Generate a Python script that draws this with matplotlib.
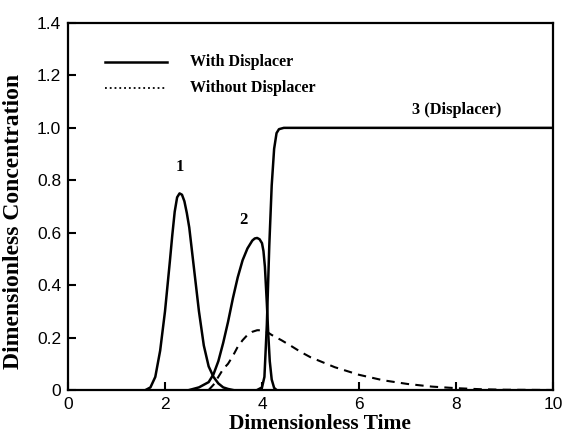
import matplotlib.pyplot as plt
from matplotlib.ticker import FixedLocator

# values
t_peak1 = [1.6, 1.7, 1.8, 1.9, 2.0, 2.1, 2.15, 2.2, 2.25, 2.3, 2.35, 2.4, 2.45, 2.5, 2.6, 2.7, 2.8, 2.9,
           3.0, 3.1, 3.2, 3.3, 3.4]
c_peak1 = [0.0, 0.01, 0.05, 0.15, 0.30, 0.49, 0.59, 0.68, 0.735, 0.75, 0.745, 0.72, 0.675, 0.62, 0.46,
           0.30, 0.17, 0.09, 0.05, 0.025, 0.01, 0.004, 0.0]

t_peak2 = [2.5, 2.7, 2.9, 3.0, 3.1, 3.2, 3.3, 3.4, 3.5, 3.6, 3.7, 3.75, 3.8, 3.85, 3.9, 3.95, 4.0, 4.03,
           4.06, 4.1, 4.13, 4.16, 4.2, 4.25, 4.3]
c_peak2 = [0.0, 0.01, 0.03, 0.06, 0.11, 0.18, 0.26, 0.35, 0.43, 0.495, 0.54, 0.555, 0.57, 0.578, 0.58,
           0.575, 0.56, 0.53, 0.47, 0.33, 0.21, 0.11, 0.04, 0.008, 0.0]

t_disp = [3.9, 4.0, 4.05, 4.1, 4.15, 4.2, 4.25, 4.3, 4.35, 4.45, 10.0]
c_disp = [0.0, 0.01, 0.05, 0.25, 0.55, 0.78, 0.92, 0.98, 0.995, 1.0, 1.0]

t_nodisp = [2.9, 3.0, 3.1, 3.2, 3.3, 3.4, 3.5, 3.6, 3.7, 3.8, 3.9, 4.0, 4.1, 4.2, 4.4, 4.6, 4.8, 5.0,
            5.5, 6.0, 6.5, 7.0, 7.5, 8.0, 8.5, 9.0, 10.0]
c_nodisp = [0.0, 0.02, 0.05, 0.08, 0.10, 0.13, 0.165, 0.19, 0.21, 0.222, 0.228, 0.228, 0.222, 0.21, 0.19,
            0.168, 0.145, 0.125, 0.087, 0.058, 0.037, 0.023, 0.013, 0.007, 0.003, 0.001, 0.0]

x_ticks = [0, 2, 4, 6, 8, 10]
y_ticks = [0, 0.2, 0.4, 0.6, 0.8, 1.0, 1.2, 1.4]
y_labels = ['0', '0.2', '0.4', '0.6', '0.8', '1.0', '1.2', '1.4']

serif = ['Liberation Serif', 'DejaVu Serif']

fig = plt.figure(figsize=(5.62, 4.37), dpi=100)
ax = fig.add_axes([68 / 562, 1 - 390 / 437, 485 / 562, 367 / 437])

lw = 1.8
ax.plot(t_peak1, c_peak1, color='black', lw=lw)
ax.plot(t_peak2, c_peak2, color='black', lw=lw)
ax.plot(t_disp, c_disp, color='black', lw=lw)
ax.plot(t_nodisp, c_nodisp, color='black', lw=1.5, ls=(0, (4, 3)))

ax.set_xlim(0, 10)
ax.set_ylim(0, 1.4)
ax.xaxis.set_major_locator(FixedLocator(x_ticks))
ax.yaxis.set_major_locator(FixedLocator(y_ticks))
ax.set_yticklabels(y_labels)
ax.tick_params(direction='in', length=6, width=1.5, labelsize=12.5, top=False, right=False, pad=5)
for lab in ax.get_xticklabels() + ax.get_yticklabels():
    lab.set_family(['Liberation Sans', 'DejaVu Sans'])
for s in ax.spines.values():
    s.set_linewidth(1.6)

ax.set_xlabel('Dimensionless Time', family=serif, fontweight='bold', fontsize=15.5)
ax.set_ylabel('Dimensionless Concentration', family=serif, fontweight='bold', fontsize=17)
ax.xaxis.set_label_coords(0.52, -0.066)
ax.yaxis.set_label_coords(-0.09, 0.458)

# legend drawn by hand: the figure uses a dotted sample for the dashed curve
ax.plot([0.076, 0.204], [0.894, 0.894], transform=ax.transAxes, color='black', lw=lw)
ax.plot([0.076, 0.204], [0.823, 0.823], transform=ax.transAxes, color='black', lw=1.3, ls=':')
ax.text(0.252, 0.894, 'With Displacer', transform=ax.transAxes, family=serif, fontweight='bold',
        fontsize=11.5, va='center')
ax.text(0.252, 0.823, 'Without Displacer', transform=ax.transAxes, family=serif, fontweight='bold',
        fontsize=11.5, va='center')

ax.text(2.3, 0.85, '1', family=serif, fontweight='bold', fontsize=12, ha='center', va='center')
ax.text(3.62, 0.65, '2', family=serif, fontweight='bold', fontsize=12, ha='center', va='center')
ax.text(8.02, 1.07, '3 (Displacer)', family=serif, fontweight='bold', fontsize=11.8, ha='center', va='center')

fig.savefig('out.png', dpi=100)
